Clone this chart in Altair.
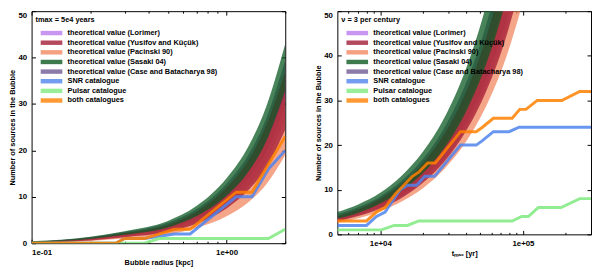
import altair as alt
import pandas as pd

LABELS = [
    "theoretical value (Lorimer)",
    "theoretical value (Yusifov and Küçük)",
    "theoretical value (Pacinski 90)",
    "theoretical value (Sasaki 04)",
    "theoretical value (Case and Batacharya 98)",
    "SNR catalogue",
    "Pulsar catalogue",
    "both catalogues",
]
COLORS = ["#ba7cec", "#a11a33", "#f38860", "#0c5a23", "#6f5992", "#4f84ec", "#7fea7f", "#ff8000"]
DRAW_ORDER = [LABELS[0], LABELS[4], LABELS[2], LABELS[1], LABELS[3]]

# ---------------- left panel: bubble radius [kpc] ----------------
r_grid = [0.1, 0.2, 0.3, 0.5, 0.7, 1.0, 1.3, 1.6, 2.0]
left_lo = {
    LABELS[0]: [0.2, 0.7, 1.4, 2.7, 4.6, 8.2, 12.5, 17.8, 27],
    LABELS[1]: [0.15, 0.6, 1.3, 2.4, 4.2, 7.5, 11.5, 16.3, 24.5],
    LABELS[2]: [0.1, 0.5, 1.0, 1.9, 3.3, 5.8, 8.9, 12.7, 19],
    LABELS[3]: [0.2, 0.9, 1.8, 3.4, 5.8, 10.2, 15.5, 22.0, 33],
    LABELS[4]: [0.2, 0.8, 1.6, 3.0, 5.2, 9.2, 14.0, 19.8, 29.5],
}
left_hi = {
    LABELS[0]: [0.3, 1.2, 2.2, 4.0, 6.8, 12.0, 18.0, 25.3, 37],
    LABELS[1]: [0.3, 1.2, 2.2, 4.0, 6.8, 12.0, 18.0, 25.5, 37],
    LABELS[2]: [0.25, 1.0, 1.9, 3.5, 5.9, 10.4, 15.6, 22.0, 32],
    LABELS[3]: [0.4, 1.4, 2.6, 4.8, 8.0, 14.0, 21.0, 29.5, 43],
    LABELS[4]: [0.35, 1.3, 2.4, 4.4, 7.3, 12.8, 19.2, 27.0, 39.5],
}
snr_left_r = [0.1, 0.27, 0.30, 0.38, 0.54, 0.65, 1.12, 1.35, 1.64, 2.0]
snr_left_n = [0, 0, 1, 1, 2, 2, 10, 10, 16, 20]
psr_left_r = [0.1, 0.38, 0.45, 1.64, 2.0]
psr_left_n = [0, 0, 1, 1, 3]
both_left_r = [0.1, 0.27, 0.30, 0.38, 0.54, 0.65, 1.12, 1.35, 1.64, 2.0]
both_left_n = [0, 0, 1, 1, 3, 3, 11, 11, 17, 23]

# ---------------- right panel: t_max [yr] ----------------
t_grid = [5000, 7000, 10000, 14000, 20000, 28000, 40000, 55000, 75000, 100000]
right_lo = {
    LABELS[0]: [3.0, 4.2, 6.0, 8.4, 12.0, 16.8, 24.0, 33.0, 45.0, 60],
    LABELS[1]: [2.9, 4.1, 5.8, 8.1, 11.6, 16.2, 23.2, 31.9, 43.5, 58],
    LABELS[2]: [2.6, 3.6, 5.2, 7.3, 10.4, 14.6, 20.8, 28.6, 39.0, 52],
    LABELS[3]: [3.5, 4.8, 6.9, 9.7, 13.8, 19.3, 27.6, 38.0, 51.8, 69],
    LABELS[4]: [3.2, 4.4, 6.3, 8.8, 12.6, 17.6, 25.2, 34.7, 47.3, 63],
}
right_hi = {
    LABELS[0]: [4.0, 5.6, 8.0, 11.2, 16.0, 22.4, 32.0, 44.0, 60.0, 80],
    LABELS[1]: [4.0, 5.6, 8.0, 11.2, 16.0, 22.4, 32.0, 44.0, 60.0, 80],
    LABELS[2]: [3.6, 5.0, 7.2, 10.1, 14.4, 20.2, 28.8, 39.6, 54.0, 72],
    LABELS[3]: [5.0, 6.7, 9.3, 13.0, 18.6, 26.0, 37.2, 51.2, 69.8, 93],
    LABELS[4]: [4.5, 6.1, 8.5, 11.9, 17.0, 23.8, 34.0, 46.8, 63.8, 85],
}
snr_right_t = [5000, 8000, 9400, 10800, 12500, 13800, 15500, 18000, 20500, 24000, 36500, 47000, 52000, 62000, 80000, 94000, 300000]
snr_right_n = [2, 2, 4, 5, 8, 10, 11, 11, 13, 13, 20, 20, 21, 23, 23, 24, 24]
psr_right_t = [5000, 10200, 12500, 15500, 18600, 84000, 98000, 109000, 128000, 185000, 250000, 300000]
psr_right_n = [1, 1, 2, 2, 3, 3, 4, 4, 6, 6, 8, 8]
both_right_t = [5000, 8000, 9400, 10800, 12700, 16800, 18700, 21500, 24300, 36500, 47000, 52000, 62000,
                84000, 95000, 105000, 126000, 187000, 250000, 300000]
both_right_n = [3, 3, 5, 6, 9, 13, 14, 16, 16, 23, 23, 24, 26, 26, 28, 28, 30, 30, 32, 32]


def band_frame(grid, lo, hi):
    rows = []
    for m in DRAW_ORDER:
        for x, a, b in zip(grid, lo[m], hi[m]):
            rows.append({"model": m, "x": x, "lo": a, "hi": b})
    return pd.DataFrame(rows)


def line_frame(series):
    rows = []
    for name, xs, ns in series:
        for x, n in zip(xs, ns):
            rows.append({"series": name, "x": x, "v": n})
    return pd.DataFrame(rows)


FONT = "Liberation Sans"


def panel(bdf, ldf, xdom, xmaj, xmin, xlabexpr, xtitle, ltitle, w, h):
    xs = alt.Scale(type="log", domain=xdom, nice=False)
    ys = alt.Scale(domain=[0, 50], nice=False, zero=False)

    ax_x_lab = alt.Axis(orient="bottom", values=xmaj, labelExpr=xlabexpr, ticks=False, domain=False,
                        grid=False, title=xtitle, labelPadding=5, titlePadding=3)
    ax_x_maj_b = alt.Axis(orient="bottom", values=xmaj, labels=False, tickSize=4, offset=-4,
                          domain=False, grid=False, title=None)
    ax_x_min_b = alt.Axis(orient="bottom", values=xmin, labels=False, tickSize=2, offset=-2,
                          domain=False, grid=False, title=None)
    ax_x_maj_t = alt.Axis(orient="top", values=xmaj, labels=False, tickSize=4, offset=-4,
                          domain=False, grid=False, title=None)
    ax_x_min_t = alt.Axis(orient="top", values=xmin, labels=False, tickSize=2, offset=-2,
                          domain=False, grid=False, title=None)
    ax_y_lab = alt.Axis(orient="left", values=[0, 10, 20, 30, 40], ticks=False, domain=False, grid=False,
                        title="Number of sources in the Bubble", labelPadding=5, titlePadding=1)
    ax_y_50 = alt.Axis(orient="left", values=[50], ticks=False, domain=False, grid=False, title=None,
                       labelPadding=5, labelOffset=4)
    ax_y_tl = alt.Axis(orient="left", values=[0, 10, 20, 30, 40, 50], labels=False, tickSize=4, offset=-4,
                       domain=False, grid=False, title=None)
    ax_y_tr = alt.Axis(orient="right", values=[0, 10, 20, 30, 40, 50], labels=False, tickSize=4, offset=-4,
                       domain=False, grid=False, title=None)

    leg = alt.Legend(orient="none", legendX=4, legendY=5, title=ltitle,
                     symbolType="M1,-1.5L15.67,-1.5L15.67,1.5L1,1.5Z", symbolSize=9,
                     symbolStrokeWidth=0, symbolOpacity=0.8,
                     labelOffset=25, labelLimit=400)

    bands = alt.Chart(bdf).mark_area(fillOpacity=0.75, interpolate="monotone", clip=True).encode(
        x=alt.X("x:Q", scale=xs, axis=ax_x_lab),
        y=alt.Y("lo:Q", scale=ys, axis=ax_y_lab),
        y2="hi:Q",
        color=alt.Color("model:N", scale=alt.Scale(domain=LABELS, range=COLORS), legend=leg),
    )
    lines = alt.Chart(ldf).mark_line(clip=True, strokeWidth=3, opacity=0.85).encode(
        x=alt.X("x:Q", scale=xs, axis=ax_x_maj_b),
        y=alt.Y("v:Q", scale=ys, axis=ax_y_tl),
        color=alt.Color("series:N", scale=alt.Scale(domain=LABELS, range=COLORS), legend=None),
    )
    inv1 = alt.Chart(ldf).mark_point(opacity=0, size=1, clip=True).encode(
        x=alt.X("x:Q", scale=xs, axis=ax_x_min_b), y=alt.Y("v:Q", scale=ys, axis=ax_y_tr))
    inv2 = alt.Chart(ldf).mark_point(opacity=0, size=1, clip=True).encode(
        x=alt.X("x:Q", scale=xs, axis=ax_x_maj_t), y=alt.Y("v:Q", scale=ys, axis=ax_y_50))
    inv3 = alt.Chart(ldf).mark_point(opacity=0, size=1, clip=True).encode(
        x=alt.X("x:Q", scale=xs, axis=ax_x_min_t), y=alt.Y("v:Q", scale=ys, axis=None))

    return alt.layer(bands, lines, inv1, inv2, inv3).resolve_scale(
        color="independent").resolve_axis(x="independent", y="independent").properties(width=w, height=h)


left = panel(
    band_frame(r_grid, left_lo, left_hi),
    line_frame([(LABELS[5], snr_left_r, snr_left_n), (LABELS[6], psr_left_r, psr_left_n),
                (LABELS[7], both_left_r, both_left_n)]),
    [0.1, 2.0], [0.1, 1.0], [0.2, 0.3, 0.4, 0.5, 0.6, 0.7, 0.8, 0.9, 2.0],
    "datum.value < 0.5 ? '1e-01' : '1e+00'", "Bubble radius [kpc]", "tmax = 5e4 years", 258, 236)

right = panel(
    band_frame(t_grid, right_lo, right_hi),
    line_frame([(LABELS[5], snr_right_t, snr_right_n), (LABELS[6], psr_right_t, psr_right_n),
                (LABELS[7], both_right_t, both_right_n)]),
    [5000, 300000], [10000, 100000],
    [6000, 7000, 8000, 9000, 20000, 30000, 40000, 50000, 60000, 70000, 80000, 90000, 200000, 300000],
    "datum.value < 50000 ? '1e+04' : '1e+05'", "tₘₐₓ [yr]", "ν = 3 per century", 258, 227)

chart = alt.hconcat(left, right, spacing=28).resolve_scale(
    color="independent", x="independent", y="independent"
).properties(
    padding={"left": 0, "top": 0, "right": 0, "bottom": 0}
).configure_view(stroke="black", strokeWidth=1).configure_axis(
    labelFont=FONT, labelFontSize=8, labelFontWeight="bold", labelColor="black",
    titleFont=FONT, titleFontSize=7.5, titleFontWeight="bold", titleColor="black",
    tickColor="black", tickWidth=1,
).configure_legend(
    titleFont=FONT, titleFontSize=7.5, titleFontWeight="bold", titleColor="black",
    labelFont=FONT, labelFontSize=7.5, labelFontWeight="bold", labelColor="black",
    rowPadding=0.8, titlePadding=6, padding=0,
)

chart.save("out.html", embed_options={"renderer": "svg", "actions": False})
